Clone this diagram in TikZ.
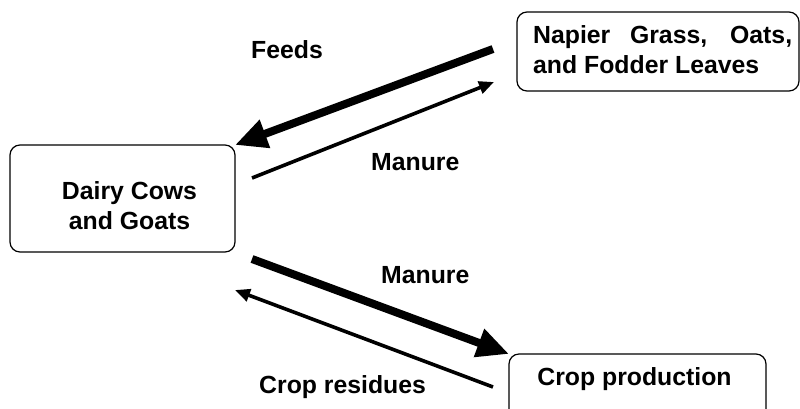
\documentclass[tikz,border=0pt]{standalone}
\usepackage{fontspec}
\setmainfont{Liberation Sans}
\usetikzlibrary{arrows.meta}
\begin{document}
\begin{tikzpicture}[x=1pt,y=-1pt,
  box/.style={draw, line width=1.2pt, rounded corners=10pt, inner sep=0pt},
  lbl/.style={font=\fontsize{24.8}{30}\selectfont\bfseries, inner sep=0pt},
  bigarrow/.style={line width=8pt, -{Triangle[length=32pt,width=28pt]}},
  thinarrow/.style={line width=3.6pt, -{Triangle[length=15pt,width=12.5pt]}}]
\useasboundingbox (0,0) rectangle (800,408);
\clip (0,0) rectangle (800,408);
% boxes
\node[box, minimum width=282pt, minimum height=79pt] (napierbox) at (658,51.5) {};
\node[box, minimum width=225pt, minimum height=107pt] (dairybox) at (122.5,198.5) {};
\node[box, minimum width=257pt, minimum height=76pt] (cropbox) at (637.5,392) {};
% box texts
\node[lbl, anchor=base west] (napiertext) at (533,43)
  {\parbox[t]{259pt}{Napier Grass, Oats,\linebreak and Fodder Leaves}};
\node[lbl, anchor=base] (dairytext) at (129.5,199)
  {\parbox[t]{170pt}{\centering Dairy Cows\\and Goats}};
\node[lbl, anchor=base] (croptext) at (634.5,385) {Crop production};
% connector end points
\coordinate (feedsS) at (493,49);
\coordinate (feedsE) at (235,145);
\coordinate (man1S) at (252,178);
\coordinate (man1E) at (494,82);
\coordinate (man2S) at (252,259);
\coordinate (man2E) at (509,354);
\coordinate (resS) at (493,387);
\coordinate (resE) at (235,290);
% arrows
\draw[bigarrow] (feedsS) -- (feedsE);
\draw[thinarrow] (man1S) -- (man1E);
\draw[bigarrow] (man2S) -- (man2E);
\draw[thinarrow] (resS) -- (resE);
% labels
\node[lbl, anchor=base west] (feedslbl) at (251,58) {Feeds};
\node[lbl, anchor=base west] (man1lbl) at (371,170) {Manure};
\node[lbl, anchor=base west] (man2lbl) at (381,283) {Manure};
\node[lbl, anchor=base west] (reslbl) at (259,393) {Crop residues};
\end{tikzpicture}
\end{document}
